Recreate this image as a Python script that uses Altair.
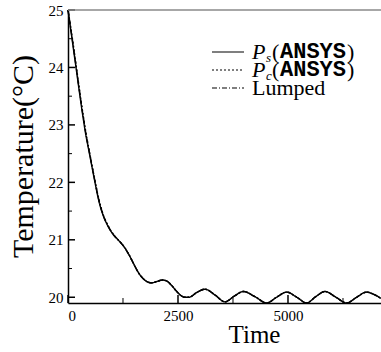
import altair as alt
import pandas as pd

# ---- data ----
time = [0, 100, 200, 300, 400, 500, 600, 700, 800, 900, 1000, 1100, 1200, 1300, 1400,
        1500, 1600, 1700, 1800, 1900, 2000, 2150, 2250, 2350, 2450, 2550, 2650, 2750,
        2920, 3114, 3340, 3568, 3780, 3985, 4250, 4515, 4740, 4970, 5200, 5424, 5630,
        5841, 6090, 6333, 6560, 6788, 6950, 7114]
ps = [25.0, 24.45, 23.9, 23.35, 22.85, 22.45, 22.05, 21.68, 21.42, 21.25, 21.12, 21.03,
      20.95, 20.85, 20.72, 20.57, 20.43, 20.33, 20.27, 20.25, 20.27, 20.30, 20.28, 20.21,
      20.12, 20.04, 20.00, 20.00, 20.08, 20.14, 20.04, 19.92, 20.02, 20.10, 20.01, 19.90,
      20.00, 20.09, 20.00, 19.90, 20.01, 20.10, 20.00, 19.90, 20.00, 20.09, 20.05, 19.98]
pc = [25.0, 24.5, 23.95, 23.4, 22.9, 22.48, 22.08, 21.71, 21.44, 21.26, 21.13, 21.03,
      20.95, 20.85, 20.72, 20.57, 20.43, 20.33, 20.27, 20.25, 20.27, 20.30, 20.28, 20.21,
      20.12, 20.04, 20.00, 20.00, 20.08, 20.14, 20.04, 19.92, 20.02, 20.10, 20.01, 19.90,
      20.00, 20.09, 20.00, 19.90, 20.01, 20.10, 20.00, 19.90, 20.00, 20.09, 20.05, 19.98]
lumped = [25.0, 24.48, 23.93, 23.38, 22.88, 22.47, 22.07, 21.70, 21.43, 21.26, 21.12, 21.03,
          20.95, 20.85, 20.72, 20.57, 20.43, 20.33, 20.27, 20.25, 20.27, 20.30, 20.28, 20.21,
          20.12, 20.04, 20.00, 20.00, 20.08, 20.14, 20.04, 19.92, 20.02, 20.10, 20.01, 19.90,
          20.00, 20.09, 20.00, 19.90, 20.01, 20.10, 20.00, 19.90, 20.00, 20.09, 20.05, 19.98]
series_names = ["Ps", "Pc", "Lumped"]
y_major = [20, 21, 22, 23, 24, 25]
y_minor = [20.5, 21.5, 22.5, 23.5, 24.5]
x_major = [0, 2500, 5000]
x_minor = [1250, 3750, 6250]

rows = []
for name, vals in zip(series_names, [ps, pc, lumped]):
    for t, v in zip(time, vals):
        rows.append({"time": t, "temp": v, "series": name})
df = pd.DataFrame(rows)

W, H = 313, 293
xscale = alt.Scale(domain=[0, 7114], nice=False, zero=False)
yscale = alt.Scale(domain=[19.9, 25], nice=False, zero=False)
SERIF = "Liberation Serif"

xaxis = alt.Axis(values=x_major, format="d", title="Time", titleFontSize=25,
                 titleX=186, titleY=39, titleBaseline="alphabetic", labelPadding=5)
yaxis = alt.Axis(values=y_major, format="d", title="Temperature(°C)", titleFontSize=30,
                 titleX=-45, titleY=146, titleAlign="center",
                 titleBaseline="middle", labelPadding=5)

lines = alt.Chart(df).mark_line(color="black", strokeWidth=1.4, interpolate="monotone").encode(
    x=alt.X("time:Q", scale=xscale, axis=xaxis),
    y=alt.Y("temp:Q", scale=yscale, axis=yaxis),
    strokeDash=alt.StrokeDash("series:N",
                              scale=alt.Scale(domain=series_names,
                                              range=[[1, 0], [2, 2], [5, 2, 1, 2]]),
                              legend=None),
    detail="series:N",
)

ymaj = alt.Chart(pd.DataFrame({"temp": y_major})).mark_rule(color="black", strokeWidth=1.5).encode(
    y=alt.Y("temp:Q", scale=yscale, axis=yaxis), x=alt.value(0), x2=alt.value(7))
ymin = alt.Chart(pd.DataFrame({"temp": y_minor})).mark_rule(color="black", strokeWidth=1).encode(
    y=alt.Y("temp:Q", scale=yscale, axis=yaxis), x=alt.value(0), x2=alt.value(4))
xmaj = alt.Chart(pd.DataFrame({"time": x_major})).mark_rule(color="black", strokeWidth=1.5).encode(
    x=alt.X("time:Q", scale=xscale, axis=xaxis), y=alt.value(H), y2=alt.value(H - 8))
xmin = alt.Chart(pd.DataFrame({"time": x_minor})).mark_rule(color="black", strokeWidth=1).encode(
    x=alt.X("time:Q", scale=xscale, axis=xaxis), y=alt.value(H), y2=alt.value(H - 5))

dummy = pd.DataFrame({"a": [0]})
top_border = alt.Chart(dummy).mark_rule(color="#8a8a8a", strokeWidth=1.5).encode(
    x=alt.value(0), x2=alt.value(W), y=alt.value(0))

# legend (custom, to allow subscripts)
legend_layers = []
row_base = [49, 67, 85]
row_line = [42, 60, 78]
dashes = [[1, 0], [2, 2], [5, 2, 1, 2]]
for i in range(3):
    legend_layers.append(alt.Chart(dummy).mark_rule(color="black", strokeWidth=1.2,
                                                    strokeDash=dashes[i]).encode(
        x=alt.value(144), x2=alt.value(176), y=alt.value(row_line[i])))

def txt(s, x, y, size, font=SERIF, style="normal", weight="normal"):
    return alt.Chart(dummy).mark_text(text=s, font=font, fontSize=size, fontStyle=style,
                                      fontWeight=weight, align="left",
                                      baseline="alphabetic", color="black").encode(
        x=alt.value(x), y=alt.value(y))

for i, sub in enumerate(["s", "c"]):
    b = row_base[i]
    legend_layers += [
        txt("P", 184, b, 22, style="italic"),
        txt(sub, 198, b + 3, 13, style="italic"),
        txt("(", 204, b, 22),
        txt("ANSYS", 212, b - 1, 22, font="Liberation Mono", weight="bold"),
        txt(")", 279, b, 22),
    ]
legend_layers.append(txt("Lumped", 184, row_base[2], 22))

chart = alt.layer(lines, ymaj, ymin, xmaj, xmin, top_border, *legend_layers).properties(
    width=W, height=H,
    autosize=alt.AutoSizeParams(type="none"),
    padding={"left": 68, "top": 10, "right": 0, "bottom": 49},
).configure_view(stroke=None).configure_axis(
    grid=False, ticks=False, domainColor="black", domainWidth=1.5,
    labelFont=SERIF, labelFontSize=15, labelColor="black",
    titleFont=SERIF, titleFontWeight="normal", titleColor="black",
)

chart.save("out.html", embed_options={"renderer": "svg", "actions": False})
